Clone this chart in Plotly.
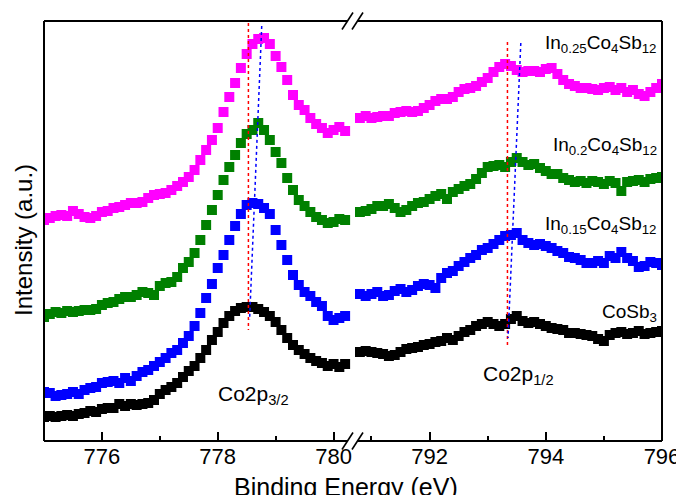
import plotly.graph_objects as go

# ---------------- data ----------------
# binding energy grids (eV), 0.1 eV steps
energy_low = [round(775.0 + 0.1 * k, 1) for k in range(53)]    # 775.0 .. 780.2
energy_high = [round(790.8 + 0.1 * k, 1) for k in range(53)]   # 790.8 .. 796.0

# intensities (arbitrary units, stacked/offset as in the figure)
in025_low = [221, 223, 225, 226, 225, 230, 227, 224, 223, 225, 229, 230, 233, 234, 236, 238, 238, 239,
             243, 246, 247, 248, 251, 255, 259, 264, 271, 281, 291, 301, 313, 329, 344, 358, 373, 387,
             397, 402, 403, 397, 385, 374, 361, 346, 336, 331, 323, 317, 313, 308, 311, 314, 310]
in02_low = [124, 127, 129, 128, 130, 129, 130, 131, 131, 132, 136, 138, 139, 142, 144, 144, 146, 149,
            148, 146, 155, 158, 159, 164, 173, 179, 188, 201, 216, 231, 246, 261, 274, 286, 298, 307,
            311, 318, 311, 301, 289, 278, 263, 251, 241, 235, 229, 224, 221, 218, 219, 222, 221]
in015_low = [49, 48, 45, 46, 47, 49, 47, 51, 53, 54, 58, 59, 60, 58, 63, 60, 65, 69, 71, 75, 79, 83,
             88, 91, 98, 105, 115, 128, 143, 157, 173, 186, 201, 215, 227, 236, 238, 237, 233, 227,
             211, 196, 181, 166, 156, 149, 145, 139, 135, 125, 121, 123, 125]
cosb3_low = [24, 25, 24, 25, 26, 25, 27, 28, 30, 29, 32, 33, 33, 37, 35, 37, 36, 37, 38, 41, 47, 51,
             54, 58, 64, 70, 75, 83, 91, 101, 109, 118, 125, 130, 133, 134, 134, 132, 129, 125, 119,
             111, 103, 96, 91, 87, 83, 80, 78, 75, 77, 74, 77]

in025_high = [323, 325, 323, 324, 325, 325, 328, 329, 330, 329, 330, 333, 336, 340, 342, 342, 344, 349,
              352, 353, 355, 359, 363, 369, 374, 377, 375, 371, 369, 370, 370, 369, 372, 373, 367, 361,
              357, 355, 353, 353, 352, 351, 353, 354, 351, 353, 349, 351, 347, 345, 349, 353, 357]
in02_high = [229, 230, 232, 235, 235, 237, 233, 229, 231, 235, 238, 239, 242, 245, 247, 242, 249, 252,
             255, 257, 262, 268, 274, 275, 276, 274, 279, 283, 279, 276, 277, 273, 270, 267, 267, 263,
             261, 259, 260, 258, 260, 259, 257, 260, 258, 250, 259, 260, 261, 259, 262, 263, 264]
in015_high = [147, 145, 147, 149, 145, 146, 150, 152, 149, 151, 155, 157, 156, 153, 163, 168, 170, 175,
              179, 183, 186, 191, 193, 197, 201, 205, 206, 208, 201, 198, 196, 197, 195, 193, 190, 188,
              184, 183, 181, 178, 178, 180, 178, 185, 183, 189, 183, 180, 174, 175, 179, 178, 176]
cosb3_high = [89, 90, 89, 88, 87, 85, 86, 89, 92, 93, 94, 96, 97, 99, 100, 103, 101, 105, 109, 111,
              115, 117, 119, 117, 115, 117, 122, 125, 120, 118, 119, 117, 115, 113, 112, 111, 108, 108,
              107, 106, 105, 102, 100, 106, 108, 109, 107, 108, 110, 107, 108, 109, 110]

series_names = ["CoSb<sub>3</sub>", "In<sub>0.15</sub>Co<sub>4</sub>Sb<sub>12</sub>",
                "In<sub>0.2</sub>Co<sub>4</sub>Sb<sub>12</sub>", "In<sub>0.25</sub>Co<sub>4</sub>Sb<sub>12</sub>"]
series_colors = ["#000000", "#0000FF", "#008000", "#FF00FF"]
low_values = [cosb3_low, in015_low, in02_low, in025_low]
high_values = [cosb3_high, in015_high, in02_high, in025_high]

# peak guide lines (eV, intensity)
red_low_x = [778.53, 778.53]
red_low_y = [418, 111]
blue_low_x = [778.76, 778.55]
blue_low_y = [415, 121]
red_high_x = [793.34, 793.34]
red_high_y = [399, 93]
blue_high_x = [793.57, 793.35]
blue_high_y = [398, 103]

# ---------------- figure ----------------
OFF = 8                      # page body margin of the browser
W, H = 684 - OFF, 495 - OFF
ML, MT = 44 - OFF, 21 - OFF
MR = W - (662 - OFF)
MB = H - (441 - OFF)
PW = W - ML - MR
PH = H - MT - MB

low_range = [775.0, 780.3]
high_range = [790.716, 796.0]
d1 = 0.4966
d2 = 0.5032

FONT = "Liberation Sans, Arial, sans-serif"

fig = go.Figure()
for name, col, lv, hv in zip(series_names, series_colors, low_values, high_values):
    fig.add_trace(go.Scatter(x=energy_low, y=lv, mode="markers", name=name, showlegend=False,
                             marker=dict(symbol="square", size=10, color=col, line=dict(width=0)),
                             xaxis="x", yaxis="y"))
    fig.add_trace(go.Scatter(x=energy_high, y=hv, mode="markers", name=name, showlegend=False,
                             marker=dict(symbol="square", size=10, color=col, line=dict(width=0)),
                             xaxis="x2", yaxis="y"))

for gx, gy, col, ax in [(red_low_x, red_low_y, "#FF0000", "x"), (blue_low_x, blue_low_y, "#0000FF", "x"),
                        (red_high_x, red_high_y, "#FF0000", "x2"), (blue_high_x, blue_high_y, "#0000FF", "x2")]:
    fig.add_trace(go.Scatter(x=gx, y=gy, mode="lines", showlegend=False,
                             line=dict(color=col, width=1.5, dash="dot"), xaxis=ax, yaxis="y"))

axis_common = dict(showline=False, showgrid=False, zeroline=False, ticks="inside", ticklen=9,
                   tickwidth=1.5, tickcolor="black", dtick=2, tick0=0, automargin=False,
                   minor=dict(ticks="inside", ticklen=5, tickwidth=1.5, tickcolor="black", dtick=1),
                   tickfont=dict(family=FONT, size=22, color="black"))

fig.update_layout(
    width=W, height=H, margin=dict(l=ML, r=MR, t=MT, b=MB, autoexpand=False),
    paper_bgcolor="white", plot_bgcolor="white",
    xaxis=dict(domain=[0, d1], range=low_range, anchor="y", **axis_common),
    xaxis2=dict(domain=[d2, 1], range=high_range, anchor="y", **axis_common),
    yaxis=dict(range=[0, 420], showticklabels=False, ticks="", showgrid=False, zeroline=False,
               showline=False, automargin=False),
    showlegend=False,
)

# helpers: reference-picture pixels -> paper fractions
def px2fx(px):
    return (px - OFF - ML) / PW

def py2fy(py):
    return (H - MB - (py - OFF)) / PH

# frame
lw = 2
shapes = []
gap_l = 347.5
gap_r = 357.5
for yy in [0, 1]:
    shapes.append(dict(type="line", xref="paper", yref="paper", x0=0, x1=px2fx(gap_l), y0=yy, y1=yy,
                       line=dict(color="black", width=lw)))
    shapes.append(dict(type="line", xref="paper", yref="paper", x0=px2fx(gap_r), x1=1, y0=yy, y1=yy,
                       line=dict(color="black", width=lw)))
for xx in [0, 1]:
    shapes.append(dict(type="line", xref="paper", yref="paper", x0=xx, x1=xx, y0=0, y1=1,
                       line=dict(color="black", width=lw)))
# break marks
for base in [21, 441]:
    for off in [0, 10]:
        shapes.append(dict(type="line", xref="paper", yref="paper",
                           x0=px2fx(342 + off), y0=py2fy(base + 8.5),
                           x1=px2fx(353 + off), y1=py2fy(base - 8.5),
                           line=dict(color="black", width=1.6)))
fig.update_layout(shapes=shapes)

ann_font = dict(family=FONT, size=19, color="black")
annotations = [
    dict(text=series_names[3], x=px2fx(659), y=py2fy(44), xanchor="right", yanchor="middle"),
    dict(text=series_names[2], x=px2fx(659), y=py2fy(146), xanchor="right", yanchor="middle"),
    dict(text=series_names[1], x=px2fx(659), y=py2fy(225), xanchor="right", yanchor="middle"),
    dict(text=series_names[0], x=px2fx(659), y=py2fy(313), xanchor="right", yanchor="middle"),
]
for a in annotations:
    a.update(xref="paper", yref="paper", showarrow=False, font=ann_font)
annotations += [
    dict(text="Co2p<sub>3/2</sub>", x=px2fx(216), y=py2fy(395), xanchor="left", yanchor="middle",
         xref="paper", yref="paper", showarrow=False, font=dict(family=FONT, size=21, color="black")),
    dict(text="Co2p<sub>1/2</sub>", x=px2fx(481), y=py2fy(375), xanchor="left", yanchor="middle",
         xref="paper", yref="paper", showarrow=False, font=dict(family=FONT, size=21, color="black")),
    dict(text="Binding Energy (eV)", x=px2fx(346), y=py2fy(487), xanchor="center", yanchor="middle",
         xref="paper", yref="paper", showarrow=False, font=dict(family=FONT, size=25, color="black")),
    dict(text="Intensity (a.u.)", x=px2fx(24), y=py2fy(240), xanchor="center", yanchor="middle",
         textangle=-90, xref="paper", yref="paper", showarrow=False,
         font=dict(family=FONT, size=24, color="black")),
]
fig.update_layout(annotations=annotations)

fig.write_html("out.html")
